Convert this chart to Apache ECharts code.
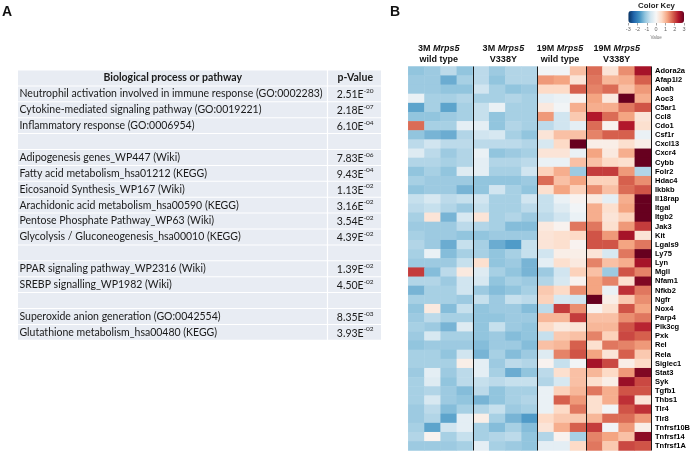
<!DOCTYPE html>
<html><head><meta charset="utf-8">
<script src="https://cdn.jsdelivr.net/npm/echarts@6/dist/echarts.min.js"></script>
<style>html,body{margin:0;padding:0;background:#fff}#c{width:693px;height:453px}</style>
</head><body><div id="c"></div>
<script>
// ---------- Panel A: table data ----------
const processes = [
  'Neutrophil activation involved in immune response (GO:0002283)',
  'Cytokine-mediated signaling pathway (GO:0019221)',
  'Inflammatory response (GO:0006954)',
  '',
  'Adipogenesis genes_WP447 (Wiki)',
  'Fatty acid metabolism_hsa01212 (KEGG)',
  'Eicosanoid Synthesis_WP167 (Wiki)',
  'Arachidonic acid metabolism_hsa00590 (KEGG)',
  'Pentose Phosphate Pathway_WP63 (Wiki)',
  'Glycolysis / Gluconeogenesis_hsa00010 (KEGG)',
  '',
  'PPAR signaling pathway_WP2316 (Wiki)',
  'SREBP signalling_WP1982 (Wiki)',
  '',
  'Superoxide anion generation (GO:0042554)',
  'Glutathione metabolism_hsa00480 (KEGG)'
];
const pMantissa = ['2.51','2.18','6.10','','7.83','9.43','1.13','3.16','3.54','4.39','','1.39','4.50','','8.35','3.93'];
const pExponent = ['-20','-07','-04','','-06','-04','-02','-02','-02','-02','','-02','-02','','-03','-02'];

// ---------- Panel B: heatmap data ----------
const genes = ['Adora2a','Afap1l2','Aoah','Aoc3','C5ar1','Ccl8','Cdo1','Csf1r','Cxcl13','Cxcr4','Cybb','Folr2','Hdac4','Ikbkb','Il18rap','Itgal','Itgb2','Jak3','Kit','Lgals9','Ly75','Lyn','Mgll','Nfam1','Nfkb2','Ngfr','Nox4','Parp4','Pik3cg','Pxk','Rel','Rela','Siglec1','Stat3','Syk','Tgfb1','Thbs1','Tlr4','Tlr8','Tnfrsf10B','Tnfrsf14','Tnfrsf1A'];
const groupAge = ['3M','3M','19M','19M'];
const groupGene = 'Mrps5';
const groupGenotype = ['wild type','V338Y','wild type','V338Y'];

const wt3M = [
[-1.2,-1.1,-0.8,-1.2],[-1.1,-1.1,-1.5,-1.0],[-1.1,-1.1,-1.2,-1.2],[-0.2,-1.0,-1.0,-0.9],[-1.6,-1.0,-1.6,-1.0],
[-1.2,-1.2,-1.1,-1.0],[1.7,-1.0,-1.0,-0.3],[-1.2,-1.4,-1.5,-0.9],[-0.8,-0.6,-0.8,-0.8],[-0.4,-0.8,-1.1,-0.9],
[-0.9,-0.9,-1.0,-0.9],[-1.2,-1.0,-1.2,-0.4],[-1.0,-1.1,-1.1,-1.1],[-1.2,-1.1,-1.1,-1.4],[-0.7,-0.5,-0.8,-0.7],
[-0.8,-0.7,-0.9,-1.1],[-1.0,0.4,-1.4,-0.5],[-1.1,-1.1,-1.1,-0.8],[-1.0,-1.1,-1.1,-1.2],[-0.9,-1.1,-1.5,-0.7],
[-1.0,-0.2,-1.3,-1.0],[-1.1,-1.1,-1.1,-0.7],[2.1,-1.3,-0.8,0.3],[-0.9,-0.9,-1.1,-0.6],[-1.4,-1.0,-1.0,-0.6],
[-1.0,-1.0,-1.0,-1.1],[-1.2,0.3,-1.3,-0.7],[-1.1,-0.8,-1.0,-1.0],[-1.0,-1.1,-1.4,-0.4],[-1.1,-0.5,-1.0,-1.0],
[-1.2,-1.1,-1.1,-1.1],[-1.0,-1.0,-1.2,-0.6],[-1.0,-1.0,-1.0,0.2],[-1.1,-0.3,-1.1,-0.8],[-1.0,-0.4,-1.2,-0.8],
[-1.0,-0.9,-1.1,-1.3],[-1.0,-0.5,-1.1,-1.2],[-1.1,-0.8,-1.3,-1.0],[-1.1,-0.9,-1.6,-0.3],[-1.0,-1.6,-0.6,-0.3],
[-0.9,0.1,-1.0,-0.7],[-1.1,-1.1,-1.1,-1.0]
];
const v338y3M = [
[-0.8,-1.1,-0.9,-0.9],[-0.8,-1.2,-0.9,-0.9],[-0.6,-1.0,-1.2,-1.1],[-1.0,-1.0,-0.9,-1.0],[-0.7,-0.2,-1.0,-1.0],
[-0.7,-1.2,-1.0,-1.0],[-0.3,-1.2,-0.9,-1.0],[-0.6,-0.5,-1.0,-1.2],[-0.8,-0.8,-0.8,-0.9],[-0.2,-1.2,-1.1,-1.0],
[-0.3,-0.9,-0.9,-0.8],[-0.3,-1.0,-1.0,-0.6],[-1.2,-1.2,-1.2,-1.1],[-1.2,-0.6,-1.0,-1.2],[-0.6,-1.0,-1.0,-0.6],
[-0.7,-1.0,-1.0,-0.8],[0.4,-1.0,-0.9,-1.1],[-0.9,-1.0,-1.3,-1.3],[-1.2,-1.1,-1.1,-1.1],[-1.0,-1.5,-1.7,-0.7],
[-1.0,-1.2,-1.0,-0.7],[0.5,-1.2,-1.1,-1.4],[-0.4,-1.0,-1.2,-1.4],[-0.5,-1.2,-1.0,-1.1],[-1.1,-1.3,-1.2,-1.0],
[-0.7,-1.1,-0.7,-0.8],[-1.2,-1.1,-1.1,-1.3],[-1.2,-1.2,-1.1,-1.1],[-1.2,-0.7,-1.1,-1.2],[-1.2,-1.1,-1.3,-1.2],
[-1.3,-1.1,-1.1,-1.3],[-1.4,-1.0,-1.3,-1.1],[-0.3,-1.1,-0.8,-0.9],[-0.3,-1.0,-1.5,-1.2],[-0.7,-0.8,-0.7,-0.7],
[-0.8,-1.2,-1.0,-1.0],[-1.4,-1.2,-1.0,-0.9],[-0.9,-0.7,-1.1,-1.0],[0.2,-1.0,-1.4,-1.7],[-1.0,-1.3,-1.0,-1.3],
[-1.0,-0.9,-0.8,-1.2],[-0.3,-1.0,-1.1,-1.2]
];
const wt19M = [
[-0.1,-0.1,0.9],[1.3,1.2,0.4],[0.6,0.6,1.8],[-0.3,-0.2,0.1],[0.3,-0.1,1.1],
[1.3,-0.6,0.8],[-0.8,-0.6,-0.3],[0.4,0.9,0.9],[-0.5,0.6,3.0],[0.4,0.4,-0.2],
[-0.2,-0.2,0.9],[0.7,1.1,-1.1],[1.7,0.9,1.2],[0.5,1.2,0.7],[-0.7,-0.2,0.1],
[-0.7,-0.4,-0.1],[-0.8,-0.6,-0.2],[0.3,0.1,1.6],[0.4,0.5,0.6],[0.4,0.5,0.1],
[-0.6,0.2,0.2],[-0.3,0.5,0.3],[-1.1,-0.6,0.7],[-0.9,-0.5,0.1],[0.8,0.6,1.4],
[0.7,-0.5,-0.6],[-0.8,2.1,1.4],[1.0,1.0,2.1],[0.6,0.3,0.4],[-0.7,0.8,0.9],
[0.9,1.0,1.8],[-0.4,1.5,1.9],[0.1,-0.7,-0.1],[-0.8,0.5,0.9],[-0.9,-0.5,0.9],
[-0.2,0.7,1.0],[-0.2,1.8,1.3],[-0.2,0.6,1.6],[0.6,0.8,0.8],[0.4,1.1,1.8],
[-0.9,0.1,-1.0],[-0.3,-0.3,0.6]
];
const v338y19M = [
[1.7,0.4,1.4,2.5],[1.6,1.0,1.1,1.8],[1.5,1.7,0.9,1.3],[1.2,0.3,3.0,1.1],[1.1,1.1,1.6,1.9],
[2.4,1.7,1.2,0.4],[1.7,0.1,2.4,0.5],[1.5,1.8,1.8,-0.2],[0.2,0.2,0.5,0.2],[1.2,0.3,1.1,3.0],
[0.9,0.6,0.5,3.0],[2.1,2.1,1.3,-0.9],[0.7,0.7,1.8,1.4],[1.4,0.9,1.7,1.9],[0.3,-0.3,1.1,3.0],
[1.1,0.5,1.2,3.0],[1.1,0.4,0.7,3.0],[1.6,0.5,1.3,2.1],[1.9,1.3,2.5,0.4],[1.9,1.9,1.2,1.6],
[0.4,-0.5,1.6,3.0],[1.5,0.9,1.1,2.5],[0.9,-1.1,1.9,1.5],[1.2,1.5,0.5,2.8],[1.2,-0.2,2.2,1.6],
[3.0,0.2,0.8,1.4],[0.1,0.5,1.9,1.2],[0.9,0.9,1.4,1.6],[1.0,1.0,1.9,2.3],[1.5,0.7,2.0,1.8],
[0.5,1.6,1.5,1.3],[1.2,0.4,1.8,0.8],[2.5,2.0,0.2,0.6],[1.0,0.6,1.3,2.8],[0.5,0.2,2.6,2.0],
[1.6,1.1,1.9,1.9],[0.5,1.1,2.2,0.4],[0.5,-0.1,1.9,2.2],[1.0,1.7,1.7,1.3],[2.1,-0.1,1.3,0.2],
[1.5,1.2,0.9,2.7],[1.6,0.8,2.0,1.9]
];
const keyTicks = [-3, 3];
const rdbu = ['#053061','#2166ac','#4393c3','#92c5de','#d1e5f0','#f7f7f7','#fddbc7','#f4a582','#d6604d','#b2182b','#67001f'];

// ---------- build heatmap data ----------
const groupsData = [wt3M, v338y3M, wt19M, v338y19M];
const sampleNames = [];
const groupRanges = [];
const heatData = [];
groupsData.forEach((g, gi) => {
  const start = sampleNames.length;
  const n = g[0].length;
  for (let k = 0; k < n; k++) sampleNames.push(groupAge[gi] + ' ' + groupGenotype[gi] + ' #' + (k + 1));
  groupRanges.push([start, start + n - 1]);
  g.forEach((row, ri) => row.forEach((v, k) => heatData.push([start + k, ri, v])));
});
const boundaries = groupRanges.slice(1).map(r => r[0]);

const chart = echarts.init(document.getElementById('c'), null, {renderer: 'canvas'});
const LAB = 'Liberation Sans, Arial, sans-serif';

chart.setOption({
  animation: false,
  backgroundColor: '#fff',
  grid: [
    {left: 408.3, top: 66.5, width: 244.4, height: 384, containLabel: false},
    {left: 628.3, top: 11, width: 55.7, height: 12}
  ],
  xAxis: [
    {type: 'category', gridIndex: 0, data: sampleNames, z: 5,
     axisLine: {show: false}, axisTick: {show: false}, axisLabel: {show: false},
     splitLine: {show: true, interval: (i) => boundaries.includes(i), lineStyle: {color: '#1a1a1a', width: 1}}},
    {type: 'value', gridIndex: 1, min: keyTicks[0], max: keyTicks[1], interval: 1,
     axisLine: {show: false}, axisTick: {show: true, length: 2.5, lineStyle: {color: '#666', width: 0.6}},
     axisLabel: {fontSize: 5.5, color: '#666', margin: 3, fontFamily: LAB},
     splitLine: {show: false},
     name: 'Value', nameLocation: 'middle', nameGap: 12,
     nameTextStyle: {fontSize: 4.5, color: '#777', fontFamily: LAB}}
  ],
  yAxis: [
    {type: 'category', gridIndex: 0, data: genes, inverse: true, position: 'right',
     axisLine: {show: false}, axisTick: {show: false}, splitLine: {show: false},
     axisLabel: {fontSize: 7.5, fontWeight: 'bold', color: '#000', margin: 4, fontFamily: LAB, interval: 0}},
    {type: 'value', gridIndex: 1, show: false, min: 0, max: 1}
  ],
  visualMap: {
    type: 'continuous', min: keyTicks[0], max: keyTicks[1], seriesIndex: 0,
    orient: 'horizontal', left: 628.3, top: 11, itemWidth: 12, itemHeight: 55.7,
    padding: 0, text: null, calculable: false, hoverLink: false,
    inRange: {color: rdbu}
  },
  series: [{
    type: 'heatmap', xAxisIndex: 0, yAxisIndex: 0, data: heatData,
    itemStyle: {borderWidth: 0}, emphasis: {disabled: true}, progressive: 0
  }]
});

// ---------- graphic: panel letters, table, headers ----------
const els = [];
els.push({type: 'text', x: 2, y: 12, style: {text: 'A', fontSize: 14, fontWeight: 'bold', fontFamily: LAB, fill: '#111', verticalAlign: 'middle'}});
els.push({type: 'text', x: 390, y: 12, style: {text: 'B', fontSize: 14, fontWeight: 'bold', fontFamily: LAB, fill: '#111', verticalAlign: 'middle'}});
els.push({type: 'text', x: 656.5, y: 5.5, style: {text: 'Color Key', fontSize: 7.8, fontWeight: 'bold', fontFamily: LAB, fill: '#222', align: 'center', verticalAlign: 'middle'}});

const T = {left: 18, split: 327.5, right: 381, top: 70.5, rowH: 15.9};
const FILL = '#e8ecf3';
const TF = 'Lato, Carlito, sans-serif';
const nRows = processes.length + 1;
for (let i = 0; i < nRows; i++) {
  const y = T.top + i * T.rowH;
  els.push({type: 'rect', shape: {x: T.left, y: y, width: T.split - T.left - 0.6, height: T.rowH - 1}, style: {fill: FILL}, z: 1});
  els.push({type: 'rect', shape: {x: T.split + 0.6, y: y, width: T.right - T.split - 0.6, height: T.rowH - 1}, style: {fill: FILL}, z: 1});
  const cy = y + (T.rowH - 1) / 2;
  const cx2 = (T.split + T.right) / 2 + 1;
  if (i === 0) {
    els.push({type: 'text', x: (T.left + T.split) / 2, y: cy, z: 2, style: {text: 'Biological process or pathway', fontSize: 10.5, fontWeight: 'bold', fontFamily: TF, fill: '#1a1a1a', align: 'center', verticalAlign: 'middle'}});
    els.push({type: 'text', x: cx2, y: cy, z: 2, style: {text: 'p-Value', fontSize: 10.5, fontWeight: 'bold', fontFamily: TF, fill: '#1a1a1a', align: 'center', verticalAlign: 'middle'}});
  } else {
    const k = i - 1;
    if (processes[k]) {
      els.push({type: 'text', x: T.left + 1.5, y: cy, z: 2, style: {text: processes[k], fontSize: 10.5, fontFamily: TF, fill: '#1a1a1a', align: 'left', verticalAlign: 'middle'}});
      els.push({type: 'text', x: cx2, y: cy, z: 2, style: {
        text: '{m|' + pMantissa[k] + 'E}{e|' + pExponent[k] + '}',
        align: 'center', verticalAlign: 'middle',
        rich: {m: {fontSize: 10.5, fontFamily: TF, fill: '#1a1a1a', lineHeight: 13, verticalAlign: 'bottom'},
               e: {fontSize: 6.5, fontFamily: TF, fill: '#1a1a1a', lineHeight: 8, verticalAlign: 'top'}}
      }});
    }
  }
}

// group headers positioned via the heatmap's own axis
groupRanges.forEach((r, gi) => {
  const x0 = chart.convertToPixel({gridIndex: 0}, [r[0], 0])[0];
  const x1 = chart.convertToPixel({gridIndex: 0}, [r[1], 0])[0];
  const cx = (x0 + x1) / 2 - 2;
  els.push({type: 'text', x: cx, y: 54.5, z: 3, style: {
    text: '{b|' + groupAge[gi] + ' }{i|' + groupGene + '}\n{b|' + groupGenotype[gi] + '}',
    align: 'center', verticalAlign: 'middle',
    rich: {b: {fontSize: 9, fontWeight: 'bold', fontFamily: LAB, fill: '#111', lineHeight: 11},
           i: {fontSize: 9, fontWeight: 'bold', fontStyle: 'italic', fontFamily: LAB, fill: '#111', lineHeight: 11}}
  }});
});

chart.setOption({graphic: {elements: els}});
</script>
</body></html>
